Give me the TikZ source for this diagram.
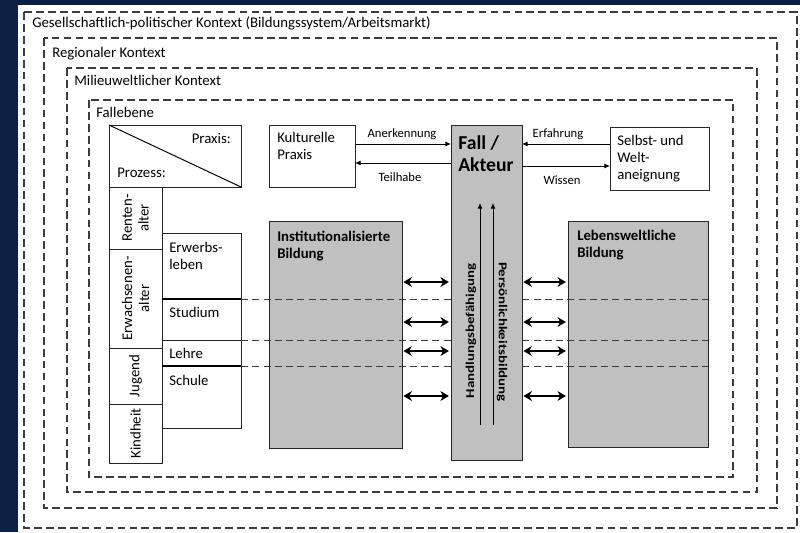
\documentclass[tikz,border=0pt]{standalone}
\usepackage{fontspec}
\setmainfont{Carlito}
\usetikzlibrary{arrows.meta}
\definecolor{navy}{RGB}{10,33,68}
\definecolor{boxgray}{RGB}{192,192,192}
\definecolor{linegray}{RGB}{60,60,60}

\begin{document}
\begin{tikzpicture}
	[x=0.025cm,y=-0.025cm,
	 ctx/.style={draw=linegray,line width=0.9pt,dash pattern=on 5.5pt off 3pt},
	 box/.style={draw=black!85,line width=0.7pt,anchor=north west,inner sep=0pt,outer sep=0pt},
	 greybox/.style={box,fill=boxgray},
	 txt/.style={anchor=north west,inner sep=0pt,align=left,font=\fontsize{10.5}{12}\selectfont},
	 boldtxt/.style={txt,font=\fontsize{10.5}{12}\selectfont\bfseries},
	 agetxt/.style={rotate=90,inner sep=0pt,align=center,font=\fontsize{10.5}{12}\selectfont},
	 vtxt/.style={inner sep=0pt,xscale=1.25,font=\fontsize{8.5}{10}\selectfont\bfseries},
	 lbl/.style={inner sep=0pt,font=\fontsize{9}{10}\selectfont},
	 flow/.style={-{Latex[length=4pt,width=3.5pt]},line width=0.6pt},
	 dblarrow/.style={{Stealth[length=6pt,width=7pt]}-{Stealth[length=6pt,width=7pt]},line width=1.5pt,shorten <=1pt,shorten >=1.5pt},
	 rowline/.style={draw=linegray,line width=0.6pt,dash pattern=on 5pt off 3pt}]
	\useasboundingbox (0,0) rectangle (800,532);
	\fill[navy] (0,0) rectangle (800,532);
	\fill[white] (18,5) rectangle (800,532);
	% nested contexts
	\draw[ctx] (24,12) rectangle (797,528);
	\draw[ctx] (44,38) rectangle (777,508);
	\draw[ctx] (67,68) rectangle (757,492);
	\draw[ctx] (89,100) rectangle (733,477);
	\node[txt,name=gesell] at (32,16) {Gesellschaftlich-politischer Kontext (Bildungssystem/Arbeitsmarkt)};
	\node[txt,name=region] at (52,47) {Regionaler Kontext};
	\node[txt,name=milieu] at (74,75) {Milieuweltlicher Kontext};
	\node[txt,name=fallebene] at (96,107) {Fallebene};
	% praxis / prozess
	\node[box,name=praxbox,minimum width=3.3cm,minimum height=1.55cm] at (109,125) {};
	\draw[line width=0.7pt] (praxbox.north west) -- (praxbox.south east);
	\node[txt,anchor=north east,name=praxis] at (231,133) {Praxis:};
	\node[txt,name=prozess] at (117,168) {Prozess:};
	% life stages
	\node[box,name=rente,minimum width=1.325cm,minimum height=1.55cm] at (109,187) {};
	\node[box,name=erwachs,minimum width=1.325cm,minimum height=2.475cm] at (109,249) {};
	\node[box,name=jugend,minimum width=1.325cm,minimum height=1.4cm] at (109,348) {};
	\node[box,name=kindheit,minimum width=1.325cm,minimum height=1.475cm] at (109,404) {};
	\node[agetxt,name=rentetxt] at (rente) {Renten-\\alter};
	\node[agetxt,name=erwachstxt] at (erwachs) {Erwachsenen-\\alter};
	\node[agetxt,name=jugendtxt] at (jugend) {Jugend};
	\node[agetxt,name=kindheittxt] at (kindheit) {Kindheit};
	\node[box,name=erwerb,minimum width=1.975cm,minimum height=1.65cm] at (162,233) {};
	\node[box,name=studium,minimum width=1.975cm,minimum height=1.025cm] at (162,299) {};
	\node[box,name=lehre,minimum width=1.975cm,minimum height=0.65cm] at (162,340) {};
	\node[box,name=schule,minimum width=1.975cm,minimum height=1.55cm] at (162,366) {};
	\draw[line width=1.3pt] (studium.north west) -- (studium.north east);
	\draw[line width=1.3pt] (schule.north west) -- (schule.north east);
	\node[txt,name=erwerbtxt] at (169,242) {Erwerbs-\\leben};
	\node[txt,name=studiumtxt] at (169,307) {Studium};
	\node[txt,name=lehretxt] at (169,348) {Lehre};
	\node[txt,name=schuletxt] at (169,375) {Schule};
	% bildung
	\node[greybox,name=inst,minimum width=3.325cm,minimum height=5.675cm] at (269,221) {};
	\node[greybox,name=leben,minimum width=3.5cm,minimum height=5.65cm] at (568,221) {};
	\node[boldtxt,name=insttxt] at (277,231) {Institutionalisierte\\Bildung};
	\node[boldtxt,name=lebentxt] at (577,230) {Lebensweltliche\\Bildung};
	\foreach \b in {erwerb,studium,lehre}
		\draw[rowline] (\b.south east) -- (\b.south east -| leben.east);
	% fall
	\node[greybox,name=fall,minimum width=1.775cm,minimum height=8.375cm] at (451,125) {};
	\node[txt,name=falltxt,font=\fontsize{14}{15.6}\selectfont\bfseries] at (458,135) {Fall /\\Akteur};
	\node[box,name=kultur,minimum width=2.15cm,minimum height=1.55cm] at (269,125) {};
	\node[txt,name=kulturtxt] at (277,132) {Kulturelle\\Praxis};
	\node[box,name=selbst,minimum width=2.475cm,minimum height=1.575cm] at (610,127) {};
	\node[txt,name=selbsttxt] at (617,135) {Selbst- und\\Welt-\\aneignung};
	\draw[flow] (kultur.east |- 0,144) -- (fall.west |- 0,144);
	\draw[flow] (fall.west |- 0,163) -- (kultur.east |- 0,163);
	\draw[flow] (selbst.west |- 0,144) -- (fall.east |- 0,144);
	\draw[flow] (fall.east |- 0,166) -- (selbst.west |- 0,166);
	\node[lbl,name=anerk] at (402,134) {Anerkennung};
	\node[lbl,name=teilhabe] at (400,177) {Teilhabe};
	\node[lbl,name=erfahrung] at (558,134) {Erfahrung};
	\node[lbl,name=wissen] at (562,180) {Wissen};
	% inside fall
	\coordinate (h0) at (480,425);
	\coordinate (h1) at (480,203);
	\coordinate (p0) at (493,425);
	\coordinate (p1) at (493,203);
	\draw[flow] (h0) -- (h1);
	\draw[flow] (p0) -- (p1);
	\node[rotate=90,vtxt,name=handlung] at (471,331) {Handlungsbefähigung};
	\node[rotate=-90,vtxt,name=pers] at (502,332) {Persönlichkeitsbildung};
	\foreach \y in {282,322,351,396} {
		\draw[dblarrow] (inst.east |- 0,\y) -- (fall.west |- 0,\y);
		\draw[dblarrow] (fall.east |- 0,\y) -- (leben.west |- 0,\y);
	}
\end{tikzpicture}
\end{document}
